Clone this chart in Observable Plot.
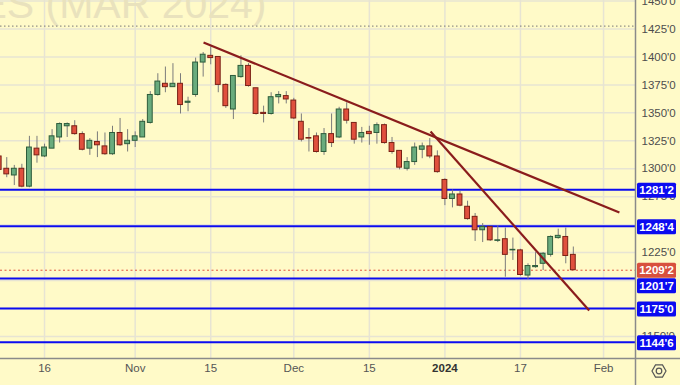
<!DOCTYPE html>
<html><head><meta charset="utf-8">
<script src="https://cdn.jsdelivr.net/npm/d3@7"></script>
<script src="https://cdn.jsdelivr.net/npm/@observablehq/plot@0.6"></script>
<style>
html,body{margin:0;padding:0;background:#fffac8;overflow:hidden}
#chart{width:680px;height:385px;position:relative}
</style></head><body><div id="chart"></div>
<script>
// ---- data (bar index = trading day, 0 = Oct 6 2023) ----
const opens  = [1311,1300,1294,1300,1284,1318,1311,1318,1328,1338,1338,1331,1318,1324,1320,1313,1332,1322,1325,1328,
                1341,1366,1376,1373,1376,1359,1366,1395,1401,1400,1375,1353,1382,1392,1372,1350,1349,1364,1365,1361,
                1342,1327.5,1329,1315,1331,1328,1353,1341,1328,1333,1332,1339,1323,1316,1300,1306,1317,1320,1311,1290,
                1273,1277,1266,1257,1245,1248,1235.5,1237,1227,1227,1204.5,1212,1215,1223,1238,1239,1223];
const highs  = [1313,1310,1303,1304,1329,1329,1322,1335,1341,1341,1343,1333,1327,1333,1332,1338,1345,1335,1333,1344,
                1369,1385,1391,1394,1385,1364,1399,1404,1409,1400,1376,1383,1401,1394,1372,1356,1368,1369,1369,1363,
                1349,1336,1332,1336,1349,1355,1359,1341,1337,1338,1341,1340,1328,1316,1310,1323,1323,1327,1316,1291,
                1281,1280,1271,1260,1251,1248,1249,1247,1238,1228,1215,1225,1225,1240,1246,1247,1230];
const lows   = [1297,1292,1285,1283,1283,1305,1310,1318,1323,1328,1330,1316,1312,1310,1312,1312,1320,1315,1319,1328,
                1340,1365,1368,1373,1349,1351,1364,1382,1393,1368,1354,1344,1381,1373,1348,1341,1348,1358,1358,1344,
                1324,1315,1314,1312,1319,1327,1340,1322,1323,1321,1322,1322,1313,1299,1298,1303,1309,1309,1296,1267,
                1265,1266,1254,1235,1234,1235,1234,1203,1218,1204,1201,1211,1209,1221,1237,1215,1209];
const closes = [1299,1295,1300,1284,1319,1312,1319,1329,1340,1340,1331,1317,1325,1321,1313,1332,1321,1325,1329,1342,
                1366,1378,1373,1376,1357,1360,1395,1402,1399,1375,1356,1383,1392,1374,1349,1349,1364,1366,1362,1345,
                1326,1327,1315,1331,1323,1353,1343,1326,1332,1331,1339,1323,1315,1301,1306,1319,1320,1311,1297,1273,
                1277,1267,1255,1245,1248,1236,1236,1223,1227.5,1205,1213,1213,1224,1239,1240,1222,1209.25];

const xTickIdx    = [6, 18, 28, 39, 49, 59, 69, 80];
const xTickLabels = ["16", "Nov", "15", "Dec", "15", "2024", "17", "Feb"];
const gridPrices  = [1150,1175,1200,1225,1250,1275,1300,1325,1350,1375,1400,1425,1450];
// axis labels that are not hidden behind the price boxes
const yLabelPrices = [1150,1225,1275,1300,1325,1350,1375,1400,1425,1450];

const levelPrices = [1281.25, 1248.5, 1201.875, 1175, 1144.75];
const levelLabels = ["1281'2", "1248'4", "1201'7", "1175'0", "1144'6"];
const lastPrice = 1209.25, lastLabel = "1209'2";
const markerLines = [1427.6];

const trendStartIdx   = [27.05, 57.1];
const trendStartPrice = [1412.9, 1333.3];
const trendEndIdx     = [82.1, 78.1];
const trendEndPrice   = [1260.9, 1173.2];

const watermark = "SOYBEAN FUTURES (MAR 2024)";

// ---- build ----
const candles = opens.map((o, i) => ({i, o, h: highs[i], l: lows[i], c: closes[i]}));
const up = candles.filter(d => d.c >= d.o), down = candles.filter(d => d.c < d.o);
const trends = trendStartIdx.map((x1, k) => ({x1, y1: trendStartPrice[k], x2: trendEndIdx[k], y2: trendEndPrice[k]}));
const xTicks = xTickIdx.map((x, k) => ({x, label: xTickLabels[k]}));

const BG = "#fffac8", GRID = "#e7e4d3";
const FONT = "'Liberation Sans', Arial, sans-serif";

const plot = Plot.plot({
  width: 680, height: 385,
  marginLeft: 0, marginRight: 45, marginTop: 0, marginBottom: 27,
  x: {type: "linear", domain: [0.172, 84.23], axis: null},
  y: {type: "linear", domain: [1130.3, 1450.5], axis: null},
  style: {background: BG, fontFamily: FONT, overflow: "visible"},
  marks: [
    Plot.ruleY(gridPrices, {stroke: GRID, strokeWidth: 1.5}),
    Plot.ruleX(xTickIdx, {stroke: GRID, strokeWidth: 1.5}),
    Plot.text([watermark], {frameAnchor: "top-left", textAnchor: "end", lineAnchor: "top", dx: 266, dy: -12,
      fontSize: 41, fill: "#e9e2bd", text: d => d}),
    Plot.ruleY(markerLines, {stroke: "#777", strokeDasharray: "1.5,2.5", strokeWidth: 1}),
    Plot.ruleY(levelPrices, {stroke: "#0b0bf0", strokeWidth: 2}),
    Plot.ruleY([lastPrice], {stroke: "#e0553f", strokeDasharray: "2,2.5", strokeWidth: 1}),
    Plot.ruleX(candles, {x: "i", y1: "l", y2: "h", stroke: "#7b7b7b", strokeWidth: 1}),
    Plot.rect(up, {x1: d => d.i - 0.32, x2: d => d.i + 0.32, y1: "o", y2: "c",
      fill: "#69ab7d", stroke: "#2d5c3b", strokeWidth: 1}),
    Plot.rect(down, {x1: d => d.i - 0.32, x2: d => d.i + 0.32, y1: "o", y2: "c",
      fill: "#e0503d", stroke: "#7a2015", strokeWidth: 1}),
    Plot.link(trends, {x1: "x1", y1: "y1", x2: "x2", y2: "y2", stroke: "#8a1c1c", strokeWidth: 2.2}),
    Plot.axisY(yLabelPrices, {anchor: "right", tickSize: 0, tickPadding: 6, label: null,
      tickFormat: d => d + "'0", fontSize: 11.5, fill: "#4d4d4d"}),
    Plot.text(xTicks.filter(d => d.label !== "2024"), {x: "x", text: "label", frameAnchor: "bottom", dy: 13,
      fontSize: 11.5, fill: "#555"}),
    Plot.text(xTicks.filter(d => d.label === "2024"), {x: "x", text: "label", frameAnchor: "bottom", dy: 13,
      fontSize: 11.5, fontWeight: "bold", fill: "#333"})
  ]
});

document.getElementById("chart").appendChild(plot);

// ---- right price labels and axis lines, positioned by Plot's y scale ----
const ys = plot.scale("y");
const svg = d3.select(plot);
const axX = 635.5, axY = 358.5;
svg.append("line").attr("x1", 0).attr("x2", 680).attr("y1", axY).attr("y2", axY)
  .attr("stroke", "#8a8a8a").attr("stroke-width", 1.5);
svg.append("line").attr("x1", axX).attr("x2", axX).attr("y1", 0).attr("y2", 385)
  .attr("stroke", "#8a8a8a").attr("stroke-width", 1.5);

const BOXH = 15;
const boxes = levelPrices.map((p, k) => ({y: ys.apply(p) + 1, label: levelLabels[k], fill: "#0b0bf0", bold: true}))
  .concat([{y: ys.apply(lastPrice) + 0.5, label: lastLabel, fill: "#d8503e", bold: true}])
  .sort((a, b) => a.y - b.y);
// push overlapping boxes downward
for (let k = 1; k < boxes.length; k++) {
  if (boxes[k].y - boxes[k - 1].y < BOXH) boxes[k].y = boxes[k - 1].y + BOXH + 0.5;
}
const g = svg.append("g").attr("class", "price-boxes");
boxes.forEach(d => {
  g.append("rect").attr("x", 637).attr("y", d.y - BOXH / 2).attr("width", 39).attr("height", BOXH)
    .attr("rx", 1.5).style("fill", d.fill).style("fill-opacity", 1).style("stroke", "none");
  g.append("text").attr("x", 656.5).attr("y", d.y).attr("dy", "0.35em").attr("text-anchor", "middle")
    .style("fill", "#ffffff").style("fill-opacity", 1).attr("font-size", 11.5).attr("font-family", FONT)
    .attr("font-weight", d.bold ? "bold" : "normal").text(d.label);
});

// settings icon
const cx = 659, cy = 371, r = 7;
const hex = d3.range(6).map(k => { const a = Math.PI / 3 * k; return [cx + r * Math.cos(a), cy + r * Math.sin(a)]; });
svg.append("polygon").attr("points", hex.map(p => p.join(",")).join(" "))
  .attr("fill", "none").attr("stroke", "#555").attr("stroke-width", 1.2);
svg.append("circle").attr("cx", cx).attr("cy", cy).attr("r", 2.8)
  .attr("fill", "none").attr("stroke", "#555").attr("stroke-width", 1.2);
</script>
</body></html>
